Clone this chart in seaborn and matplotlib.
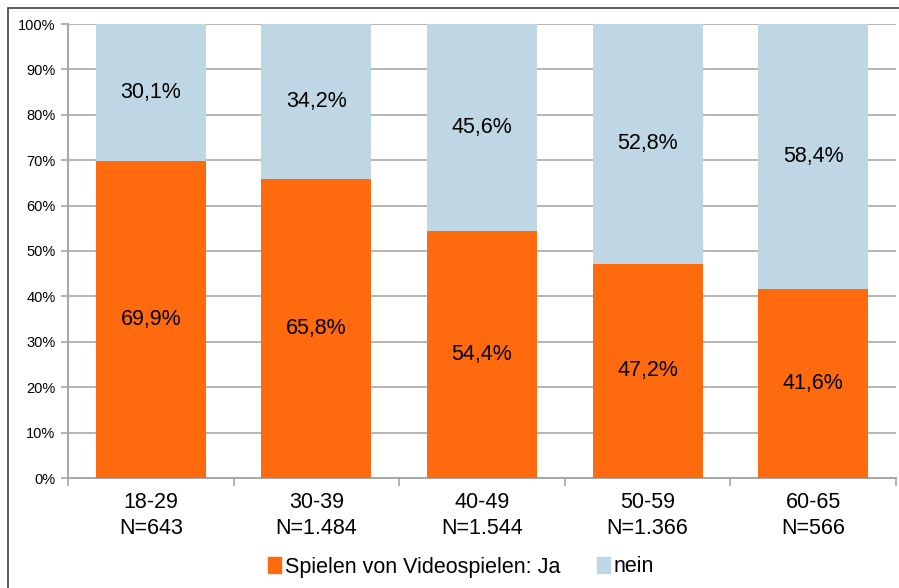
import matplotlib
matplotlib.use("Agg")
import matplotlib.pyplot as plt
import seaborn as sns
import pandas as pd
from matplotlib.patches import Rectangle, Patch

altersgruppen = ["18-29\nN=643", "30-39\nN=1.484", "40-49\nN=1.544", "50-59\nN=1.366", "60-65\nN=566"]
ja = [69.9, 65.8, 54.4, 47.2, 41.6]
nein = [30.1, 34.2, 45.6, 52.8, 58.4]

farbe_ja = "#FF6A0E"
farbe_nein = "#BFD7E4"
grau = "#A6A6A6"

sns.set_style("white")
plt.rcParams['font.family'] = ['Liberation Sans', 'DejaVu Sans']
plt.rcParams['text.color'] = 'black'
plt.rcParams['xtick.color'] = 'black'
plt.rcParams['ytick.color'] = 'black'

df = pd.DataFrame({"gruppe": altersgruppen, "ja": ja, "nein": nein})
df["gesamt"] = df["ja"] + df["nein"]

fig = plt.figure(figsize=(8.99, 5.88), dpi=100)
ax = fig.add_axes([68/899, 1 - 478/588, 828/899, 454/588])

sns.barplot(data=df, x="gruppe", y="gesamt", color=farbe_nein, width=0.665,
            saturation=1, linewidth=0, ax=ax, zorder=2)
sns.barplot(data=df, x="gruppe", y="ja", color=farbe_ja, width=0.665,
            saturation=1, linewidth=0, ax=ax, zorder=3)

for i, (a, b) in enumerate(zip(ja, nein)):
    ax.text(i, a / 2, f"{a:.1f}%".replace(".", ","), ha="center", va="center",
            fontsize=15.5, zorder=4)
    ax.text(i, a + b / 2, f"{b:.1f}%".replace(".", ","), ha="center", va="center",
            fontsize=15.5, zorder=4)

ax.set_ylim(0, 100)
ax.set_xlim(-0.5, 4.5)
ax.set_yticks(range(0, 101, 10))
ax.set_yticklabels([f"{v}%" for v in range(0, 101, 10)], fontsize=10.5)
ax.yaxis.grid(True, color="#B4B4B4", linewidth=1.4, zorder=0)
ax.set_axisbelow(True)
ax.set_xlabel("")
ax.set_ylabel("")
ax.tick_params(axis="x", labelsize=15.5, length=0, pad=10)
ax.tick_params(axis="y", left=True, length=5, color=grau, width=1.2, pad=4)
ax.set_xticks(range(5))
ax.set_xticklabels(altersgruppen, linespacing=1.35)
# kleine Striche zwischen den Kategorien
ax.set_xticks([x - 0.5 for x in range(6)], minor=True)
ax.tick_params(axis="x", which="minor", bottom=True, length=6, color=grau, width=1.2)

for s in ["top", "right"]:
    ax.spines[s].set_visible(False)
for s in ["left", "bottom"]:
    ax.spines[s].set_color(grau)
    ax.spines[s].set_linewidth(1.4)

handles = [Patch(color=farbe_ja, label="Spielen von Videospielen: Ja"),
           Patch(color=farbe_nein, label="nein")]
fig.legend(handles=handles, loc="center", bbox_to_anchor=(461/899, 1 - 567/588), ncol=2,
           frameon=False, fontsize=15.5, handlelength=0.6, handleheight=0.8,
           handletextpad=0.2, columnspacing=1.7)

fig.patches.append(Rectangle((8/899, -0.1), 1.2, 1 - 8/588 + 0.1, transform=fig.transFigure,
                             fill=False, edgecolor="#404040", linewidth=1.2))

fig.savefig("out.png", dpi=100)
